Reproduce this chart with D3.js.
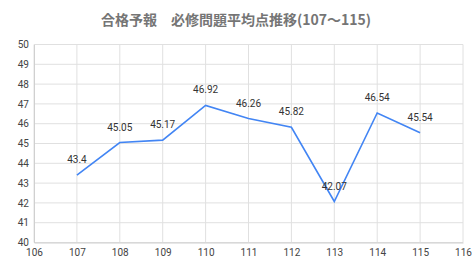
<!DOCTYPE html>
<html lang="ja">
<head>
<meta charset="utf-8">
<title>合格予報 必修問題平均点推移</title>
<script src="https://cdnjs.cloudflare.com/ajax/libs/d3/7.8.5/d3.min.js"></script>
<style>
  body { margin: 0; background: #fff; }
  svg text { font-family: Roboto, "Noto Sans CJK JP", sans-serif; }
</style>
</head>
<body>
<div id="chart"></div>
<script>
const title = "合格予報　必修問題平均点推移(107～115)";
const years = [107, 108, 109, 110, 111, 112, 113, 114, 115];
const scores = [43.4, 45.05, 45.17, 46.92, 46.26, 45.82, 42.07, 46.54, 45.54];
const xTicks = [106, 107, 108, 109, 110, 111, 112, 113, 114, 115, 116];
const yTicks = [40, 41, 42, 43, 44, 45, 46, 47, 48, 49, 50];

const w = 476, h = 272;
const padLeft = 34, padRight = 463, padTop = 44.5, padBottom = 242.5;

const svg = d3.select("#chart").append("svg")
  .attr("width", w).attr("height", h);

const x = d3.scaleLinear().domain([106, 116]).range([padLeft, padRight]);
const y = d3.scaleLinear().domain([40, 50]).range([padBottom, padTop]);

// title
svg.append("text")
  .attr("x", 236).attr("y", 25)
  .attr("text-anchor", "middle")
  .attr("font-size", 14)
  .attr("font-weight", "bold")
  .attr("fill", "#757575")
  .style("font-family", "'Noto Sans CJK JP', sans-serif")
  .text(title);

// grid
svg.append("g").selectAll("line").data(yTicks).join("line")
  .attr("x1", padLeft).attr("x2", padRight)
  .attr("y1", d => y(d)).attr("y2", d => y(d))
  .attr("stroke", "#e0e0e0");
svg.append("g").selectAll("line").data(xTicks).join("line")
  .attr("x1", d => x(d)).attr("x2", d => x(d))
  .attr("y1", padTop).attr("y2", padBottom)
  .attr("stroke", "#e0e0e0");

// axes
const yAxis = d3.axisLeft(y).tickValues(yTicks).tickSize(0).tickPadding(5);
svg.append("g")
  .attr("transform", "translate(" + padLeft + ",0)")
  .call(yAxis)
  .call(g => g.select(".domain").attr("stroke", "#d0d0d0"))
  .selectAll("text").attr("font-size", 10).attr("fill", "#444");

const xAxis = d3.axisBottom(x).tickValues(xTicks).tickSize(0).tickPadding(6);
svg.append("g")
  .attr("transform", "translate(0," + padBottom + ")")
  .call(xAxis)
  .call(g => g.select(".domain").attr("stroke", "#d0d0d0"))
  .selectAll("text").attr("font-size", 10).attr("fill", "#444");

// line
const line = d3.line()
  .x((d, i) => x(years[i]))
  .y(d => y(d));
svg.append("path")
  .datum(scores)
  .attr("d", line)
  .attr("fill", "none")
  .attr("stroke", "#4285f4")
  .attr("stroke-width", 1.6)
  .attr("stroke-linejoin", "miter");

// data labels
svg.append("g").selectAll("text").data(scores).join("text")
  .attr("x", (d, i) => x(years[i]))
  .attr("y", d => y(d) - 12)
  .attr("text-anchor", "middle")
  .attr("font-size", 10)
  .attr("fill", "#333")
  .text(d => d);
</script>
</body>
</html>
